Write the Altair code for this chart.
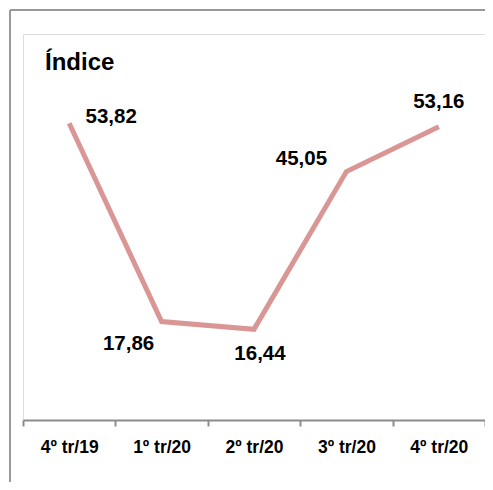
import altair as alt
import pandas as pd

categories = ["4º tr/19", "1º tr/20", "2º tr/20", "3º tr/20", "4º tr/20"]
values = [53.82, 17.86, 16.44, 45.05, 53.16]
labels = ["53,82", "17,86", "16,44", "45,05", "53,16"]

df = pd.DataFrame({"cat": categories, "val": values, "lab": labels, "i": list(range(5))})

FONT = "Liberation Sans, Arial"
W, H = 462, 386

x = alt.X("cat:N", sort=categories, title=None,
          scale=alt.Scale(paddingInner=0, paddingOuter=0),
          axis=alt.Axis(labelAngle=0, domainColor="#8c8c8c", domainWidth=2,
                        tickColor="#8c8c8c", tickWidth=2, tickSize=6, tickBand="extent",
                        labelFont=FONT, labelFontSize=17.5, labelFontWeight="bold",
                        labelColor="#000000", labelPadding=12))
y = alt.Y("val:Q", scale=alt.Scale(domain=[0, 70]), axis=None)

base = alt.Chart(df)
line = base.mark_line(color="#d99694", strokeWidth=5).encode(x=x, y=y)

offsets = [(42, -6), (-33, 22), (6, 25), (-45, -13), (0, -25)]
texts = []
for i, (dx, dy) in enumerate(offsets):
    texts.append(
        base.transform_filter(alt.datum.i == i)
        .mark_text(font=FONT, fontSize=20.5, fontWeight="bold", color="#000000",
                   dx=dx, dy=dy, baseline="middle", align="center")
        .encode(x=x, y=y, text="lab:N")
    )

one = alt.Chart(pd.DataFrame({"a": [0]}))
title = one.mark_text(text="Índice", font=FONT, fontSize=24, fontWeight="bold",
                      color="#000000", align="left", baseline="alphabetic").encode(
    x=alt.value(22), y=alt.value(36))
frame_top = one.mark_rule(color="#999999", strokeWidth=2).encode(
    x=alt.value(-13), x2=alt.value(W), y=alt.value(-24))
frame_left = one.mark_rule(color="#999999", strokeWidth=2).encode(
    x=alt.value(-13), y=alt.value(-24), y2=alt.value(H + 62))

chart = alt.layer(frame_top, frame_left, line, *texts, title).properties(
    width=W, height=H,
    autosize=alt.AutoSizeParams(type="none"),
    padding={"left": 15, "top": 26, "right": 0, "bottom": 62},
).configure_view(stroke=None).configure(background="white")

chart.save("out.html", embed_options={"renderer": "svg", "actions": False})
